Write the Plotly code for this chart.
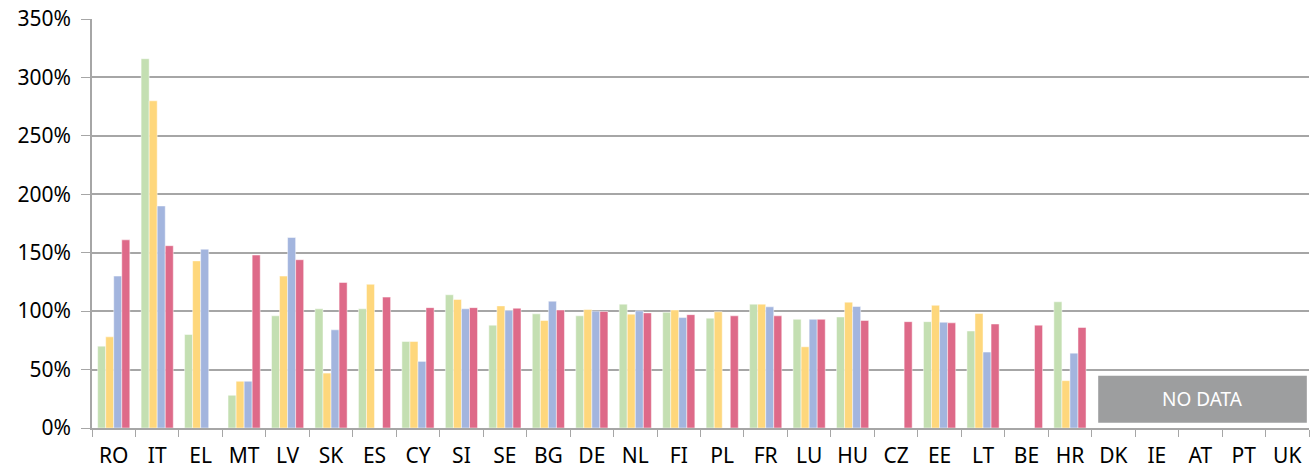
import plotly.graph_objects as go

countries = ["RO", "IT", "EL", "MT", "LV", "SK", "ES", "CY", "SI", "SE", "BG", "DE", "NL", "FI",
             "PL", "FR", "LU", "HU", "CZ", "EE", "LT", "BE", "HR", "DK", "IE", "AT", "PT", "UK"]

s_green = [70, 316, 80, 28, 96, 102, 102, 74, 114, 88, 97.7, 96, 106, 99,
           94, 106, 93, 95, None, 91, 83, None, 108, None, None, None, None, None]
s_yellow = [78, 280, 143, 40, 130, 47, 123, 74, 110, 104.5, 92, 101.4, 97.4, 101,
            99.4, 106, 69.5, 107.7, None, 105, 98, None, 40.5, None, None, None, None, None]
s_blue = [130, 190, 153, 40, 163, 84, None, 57, 102, 100.5, 108.5, 100, 100.3, 94.5,
          None, 103.7, 93, 104, None, 90.5, 65, None, 64, None, None, None, None, None]
s_red = [161, 156, None, 148, 144, 124.5, 112, 103, 103, 102.5, 101, 99.7, 98.5, 97,
         96, 96, 93, 92, 91, 90, 89, 88, 86, None, None, None, None, None]

series = [("Series 1", s_green, "#c4dfb2"),
          ("Series 2", s_yellow, "#fed77c"),
          ("Series 3", s_blue, "#a3b5de"),
          ("Series 4", s_red, "#de6a89")]

y_ticks = [0, 50, 100, 150, 200, 250, 300, 350]
y_tick_labels = [f"{v}%" for v in y_ticks]

FONT = "Noto Sans"

fig = go.Figure()
for name, vals, col in series:
    fig.add_trace(go.Bar(
        x=countries, y=vals, name=name,
        marker=dict(color=col, line=dict(color="rgba(255,255,255,0.6)", width=0.8)),
    ))

fig.add_shape(type="rect", xref="x", yref="y", x0=22.65, x1=27.45, y0=4.5, y1=44.7,
              fillcolor="#9d9e9f", line=dict(width=0), layer="above")
fig.add_annotation(x=25.05, y=24.6, xref="x", yref="y", text="NO DATA", showarrow=False,
                   font=dict(family=FONT, size=19, color="white"))

fig.update_layout(
    width=1315, height=470,
    margin=dict(l=92, r=6, t=19, b=42),
    paper_bgcolor="white", plot_bgcolor="white",
    barmode="group", bargap=0.26, bargroupgap=0,
    showlegend=False,
    font=dict(family=FONT, size=21, color="black"),
)
fig.update_xaxes(
    type="category", tickson="boundaries", ticks="outside", ticklen=7, tickcolor="#a6a6a6",
    showline=True, linecolor="#a6a6a6", linewidth=1.5, showgrid=False, automargin=False,
    ticklabelstandoff=8,
    tickfont=dict(family=FONT, size=21, color="black"),
)
fig.update_yaxes(
    range=[0, 350], tickvals=y_ticks, ticktext=y_tick_labels,
    ticks="outside", ticklen=9, tickcolor="#a6a6a6", automargin=False,
    ticklabelstandoff=6,
    showline=True, linecolor="#a6a6a6", linewidth=1.5,
    showgrid=True, gridcolor="#a6a6a6", gridwidth=1.5, zeroline=False,
    tickfont=dict(family=FONT, size=21, color="black"),
)

fig.write_html("out.html", config={"displayModeBar": False},
               post_script="document.body.style.margin='0';document.body.style.overflow='hidden';")
